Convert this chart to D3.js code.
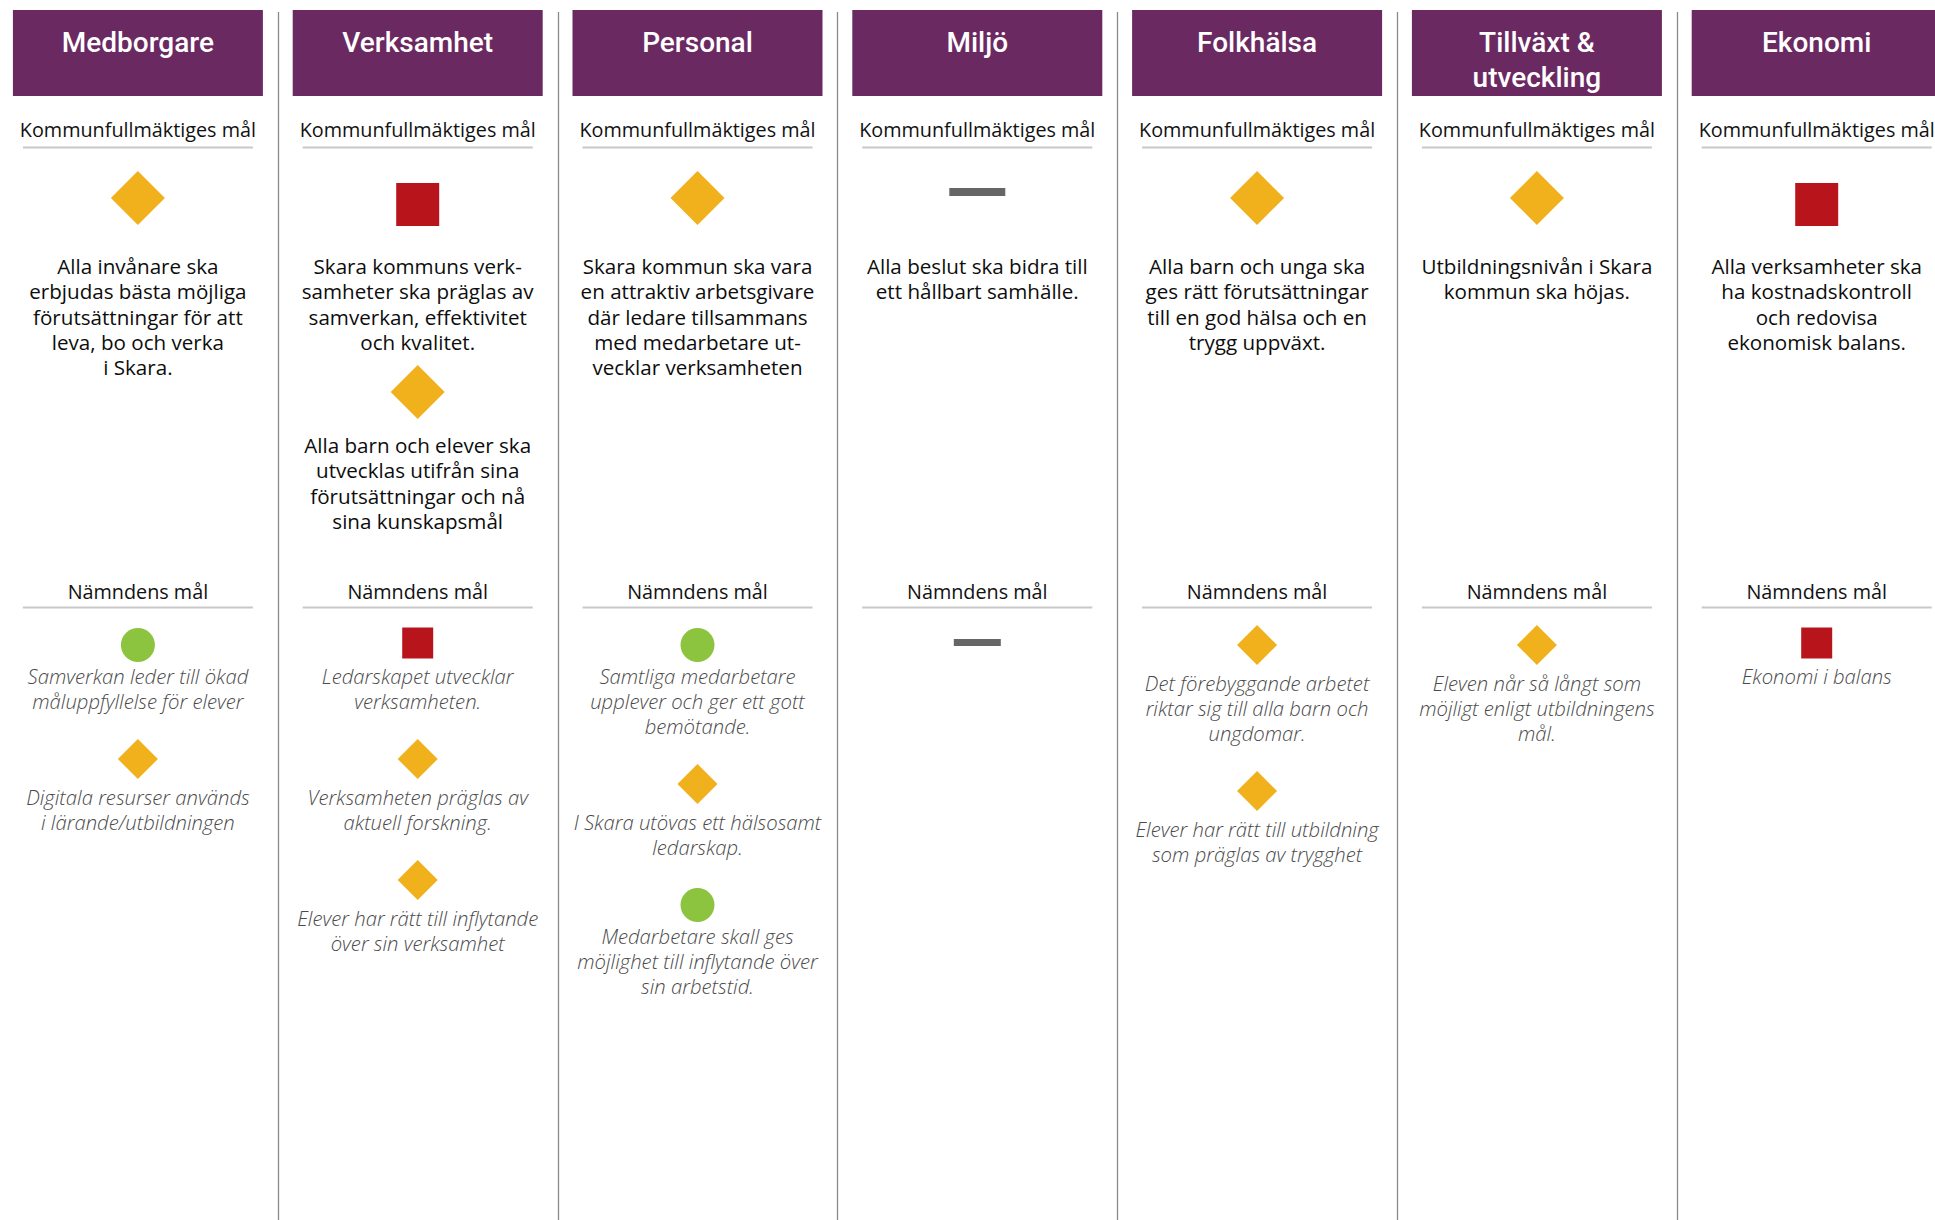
<!DOCTYPE html>
<html lang="sv">
<head>
<meta charset="utf-8">
<script src="https://cdn.jsdelivr.net/npm/d3@7"></script>
<style>
  html, body { margin: 0; padding: 0; background: #ffffff; }
  svg { display: block; }
</style>
</head>
<body>
<svg id="chart" width="1935" height="1220"></svg>
<script>
// ---------- DATA ----------
const categories = ["Medborgare", "Verksamhet", "Personal", "Miljö", "Folkhälsa", "Tillväxt & utveckling", "Ekonomi"];
const titleLines = [["Medborgare"], ["Verksamhet"], ["Personal"], ["Miljö"], ["Folkhälsa"], ["Tillväxt &", "utveckling"], ["Ekonomi"]];

const kfLabel = "Kommunfullmäktiges mål";
const namndLabel = "Nämndens mål";

// Kommunfullmäktiges mål
const kfCategory = ["Medborgare", "Verksamhet", "Verksamhet", "Personal", "Miljö", "Folkhälsa", "Tillväxt & utveckling", "Ekonomi"];
const kfStatus = ["gul", "röd", "gul", "gul", "ingen", "gul", "gul", "röd"];
const kfText = [
  ["Alla invånare ska", "erbjudas bästa möjliga", "förutsättningar för att", "leva, bo och verka", "i Skara."],
  ["Skara kommuns verk-", "samheter ska präglas av", "samverkan, effektivitet", "och kvalitet."],
  ["Alla barn och elever ska", "utvecklas utifrån sina", "förutsättningar och nå", "sina kunskapsmål"],
  ["Skara kommun ska vara", "en attraktiv arbetsgivare", "där ledare tillsammans", "med medarbetare ut-", "vecklar verksamheten"],
  ["Alla beslut ska bidra till", "ett hållbart samhälle."],
  ["Alla barn och unga ska", "ges rätt förutsättningar", "till en god hälsa och en", "trygg uppväxt."],
  ["Utbildningsnivån i Skara", "kommun ska höjas."],
  ["Alla verksamheter ska", "ha kostnadskontroll", "och redovisa", "ekonomisk balans."]
];

// Nämndens mål
const nmCategory = ["Medborgare", "Medborgare", "Verksamhet", "Verksamhet", "Verksamhet", "Personal", "Personal", "Personal", "Miljö", "Folkhälsa", "Folkhälsa", "Tillväxt & utveckling", "Ekonomi"];
const nmStatus = ["grön", "gul", "röd", "gul", "gul", "grön", "gul", "grön", "ingen", "gul", "gul", "gul", "röd"];
const nmText = [
  ["Samverkan leder till ökad", "måluppfyllelse för elever"],
  ["Digitala resurser används", "i lärande/utbildningen"],
  ["Ledarskapet utvecklar", "verksamheten."],
  ["Verksamheten präglas av", "aktuell forskning."],
  ["Elever har rätt till inflytande", "över sin verksamhet"],
  ["Samtliga medarbetare", "upplever och ger ett gott", "bemötande."],
  ["I Skara utövas ett hälsosamt", "ledarskap."],
  ["Medarbetare skall ges", "möjlighet till inflytande över", "sin arbetstid."],
  [],
  ["Det förebyggande arbetet", "riktar sig till alla barn och", "ungdomar."],
  ["Elever har rätt till utbildning", "som präglas av trygghet"],
  ["Eleven når så långt som", "möjligt enligt utbildningens", "mål."],
  ["Ekonomi i balans"]
];

const statusDomain = ["grön", "gul", "röd", "ingen"];
const statusColors = ["#8cc43f", "#f0b11d", "#b8141b", "#666666"];

// ---------- LAYOUT ----------
const W = 1935, H = 1220;
const svg = d3.select("#chart");

const colStep = 279.8;
const x = d3.scaleBand().domain(categories).range([-2, -2 + categories.length * colStep]).paddingInner(0).paddingOuter(0);
const cx = c => x(c) + x.bandwidth() / 2;
const color = d3.scaleOrdinal().domain(statusDomain).range(statusColors);

const bodyFont = "'Open Sans', 'Noto Sans', sans-serif";
const titleFont = "Roboto, 'Noto Sans', sans-serif";

// dividers
svg.append("g").selectAll("line")
  .data(categories.slice(1))
  .join("line")
  .attr("x1", d => Math.round(x(d)) + 0.5)
  .attr("x2", d => Math.round(x(d)) + 0.5)
  .attr("y1", 12).attr("y2", H)
  .attr("stroke", "#8a8a8a").attr("stroke-width", 1.3);

// header boxes
const boxW = 250, boxTop = 10, boxH = 86;
const head = svg.append("g").selectAll("g")
  .data(categories)
  .join("g");
head.append("rect")
  .attr("x", d => cx(d) - boxW / 2)
  .attr("y", boxTop)
  .attr("width", boxW).attr("height", boxH)
  .attr("fill", "#6b2962");
head.each(function (d, i) {
  const g = d3.select(this);
  titleLines[i].forEach((t, j) => {
    g.append("text")
      .attr("x", cx(d)).attr("y", boxTop + 42 + j * 35)
      .attr("text-anchor", "middle")
      .attr("font-family", titleFont).attr("font-weight", 500)
      .attr("font-size", 28).attr("fill", "#ffffff")
      .text(t);
  });
});

// section labels
function sectionLabel(label, baseline, underlineY) {
  const g = svg.append("g");
  g.selectAll("text").data(categories).join("text")
    .attr("x", d => cx(d)).attr("y", baseline)
    .attr("text-anchor", "middle")
    .attr("font-family", bodyFont).attr("font-size", 19.8)
    .attr("fill", "#111111")
    .text(label);
  g.selectAll("line").data(categories).join("line")
    .attr("x1", d => cx(d) - 115).attr("x2", d => cx(d) + 115)
    .attr("y1", underlineY).attr("y2", underlineY)
    .attr("stroke", "#c8c8c8").attr("stroke-width", 2);
}
sectionLabel(kfLabel, 137, 147.5);
sectionLabel(namndLabel, 599, 607.5);

// icon drawing
function drawIcon(g, status, px, py, big) {
  const fill = color(status);
  if (status === "gul") {
    const side = big ? 38.2 : 28.3;
    g.append("path")
      .attr("d", d3.symbol().type(d3.symbolSquare).size(side * side)())
      .attr("transform", `translate(${px},${py}) rotate(45)`)
      .attr("fill", fill);
  } else if (status === "röd") {
    const side = big ? 43 : 31;
    g.append("path")
      .attr("d", d3.symbol().type(d3.symbolSquare).size(side * side)())
      .attr("transform", `translate(${px},${py + (big ? 6.5 : -2)})`)
      .attr("fill", fill);
  } else if (status === "grön") {
    const r = 17;
    g.append("path")
      .attr("d", d3.symbol().type(d3.symbolCircle).size(Math.PI * r * r)())
      .attr("transform", `translate(${px},${py})`)
      .attr("fill", fill);
  } else {
    const w = big ? 56 : 47, h = big ? 8 : 7;
    g.append("rect")
      .attr("x", px - w / 2).attr("y", py - (big ? 6 : 2.5) - h / 2)
      .attr("width", w).attr("height", h)
      .attr("fill", fill);
  }
}

function drawLines(g, lines, px, y0, lh, italic) {
  lines.forEach((t, j) => {
    g.append("text")
      .attr("x", px).attr("y", y0 + j * lh)
      .attr("text-anchor", "middle")
      .attr("font-family", bodyFont)
      .attr("font-size", italic ? 20.3 : 20.6)
      .attr("font-style", italic ? "italic" : "normal")
      .attr("font-weight", italic ? 300 : 400)
      .attr("fill", italic ? "#4a4a4a" : "#0d0d0d")
      .text(t);
  });
}

// Kommunfullmäktiges mål (flow layout per column)
const kfG = svg.append("g");
categories.forEach(cat => {
  let y = 198, first = true;
  kfCategory.forEach((c, i) => {
    if (c !== cat) return;
    const px = cx(cat);
    drawIcon(kfG, kfStatus[i], px, y, true);
    const t0 = y + (first ? 76 : 61);
    const lh = 25.3;
    drawLines(kfG, kfText[i], px, t0, lh, false);
    y = t0 + (kfText[i].length - 1) * lh + 42;
    first = false;
  });
});

// Nämndens mål
const nmG = svg.append("g");
categories.forEach(cat => {
  let y = 645;
  nmCategory.forEach((c, i) => {
    if (c !== cat) return;
    const px = cx(cat);
    drawIcon(nmG, nmStatus[i], px, y, false);
    const lines = nmText[i];
    if (!lines.length) return;
    const t0 = y + (nmStatus[i] === "gul" ? 46 : 39);
    const lh = 25;
    drawLines(nmG, lines, px, t0, lh, true);
    y = t0 + (lines.length - 1) * lh + 50;
  });
});
</script>
</body>
</html>
